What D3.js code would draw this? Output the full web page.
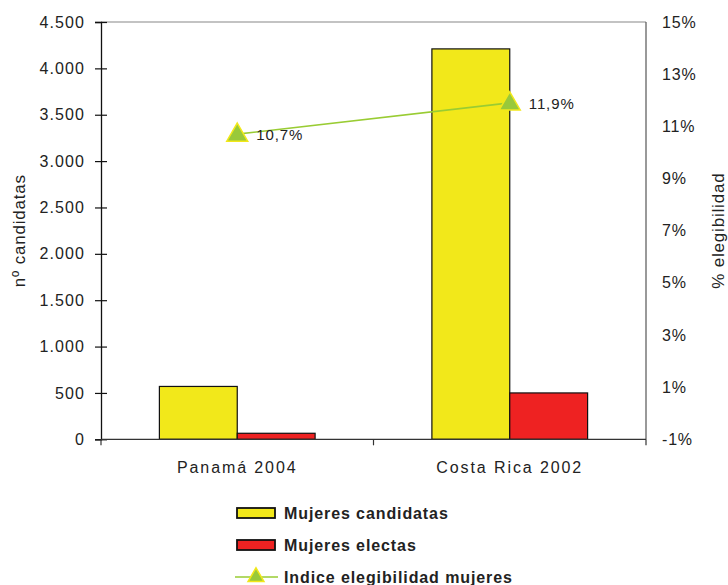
<!DOCTYPE html>
<html><head><meta charset="utf-8">
<script src="https://cdn.jsdelivr.net/npm/d3@7"></script>
<style>
html,body{margin:0;padding:0;background:#fff;}
text{font-family:"Liberation Sans",Arial,sans-serif;fill:#222;}
</style></head>
<body><svg id="c" width="728" height="585"></svg>
<script>
const categories = ["Panamá 2004", "Costa Rica 2002"];
const candidatas = [570, 4210];
const electas = [65, 500];
const indice = [10.7, 11.9];
const indiceLabels = ["10,7%", "11,9%"];
const leftTicks = [0,500,1000,1500,2000,2500,3000,3500,4000,4500];
const rightTicks = [-1,1,3,5,7,9,11,13,15];
const seriesNames = ["Mujeres candidatas", "Mujeres electas", "Indice elegibilidad mujeres"];

const svg = d3.select("#c");
const L = 101, R = 646, T = 22, B = 439.3;
const x = d3.scaleBand().domain(categories).range([L, R]).paddingInner(0).paddingOuter(0);
const inner = d3.scaleBand().domain(["c","e"]).range([0, x.bandwidth()]).paddingInner(0).paddingOuter(0.75);
const y = d3.scaleLinear().domain([0, 4500]).range([B, T]);
const y2 = d3.scaleLinear().domain([-1, 15]).range([B, T]);
const fmt = d3.formatLocale({decimal:",", thousands:".", grouping:[3], currency:["",""]}).format(",");

// plot frame
svg.append("line").attr("x1", L).attr("x2", R).attr("y1", T).attr("y2", T).attr("stroke", "#888").attr("stroke-width", 1.2);
svg.append("line").attr("x1", R).attr("x2", R).attr("y1", T).attr("y2", B).attr("stroke", "#555").attr("stroke-width", 1.2);

// bars
const colors = {c: "#f2e81a", e: "#ee2222"};
categories.forEach((cat, i) => {
  [["c", candidatas[i]], ["e", electas[i]]].forEach(([k, v]) => {
    svg.append("rect")
      .attr("x", x(cat) + inner(k))
      .attr("y", y(v))
      .attr("width", inner.bandwidth())
      .attr("height", B - y(v))
      .attr("fill", colors[k]).attr("stroke", "#111").attr("stroke-width", 1.2);
  });
});

// left axis
const la = svg.append("g").attr("transform", `translate(${L},0)`)
  .call(d3.axisLeft(y).tickValues(leftTicks).tickSize(6).tickPadding(10).tickFormat(d => fmt(d)));
la.select(".domain").attr("stroke", "#111").attr("stroke-width", 1.3);
la.selectAll(".tick line").attr("stroke", "#111").attr("x1", 6).attr("x2", -6).attr("stroke-width", 1.2);
la.selectAll(".tick text").attr("font-size", 16).attr("fill", "#222").attr("letter-spacing", 1.1)
  .attr("font-family", "Liberation Sans, Arial, sans-serif");

// right axis
const ra = svg.append("g").attr("transform", `translate(${R},0)`)
  .call(d3.axisRight(y2).tickValues(rightTicks).tickSize(0).tickPadding(16).tickFormat(d => d + "%"));
ra.select(".domain").remove();
ra.selectAll(".tick text").attr("font-size", 16).attr("fill", "#222").attr("letter-spacing", 0.8)
  .attr("font-family", "Liberation Sans, Arial, sans-serif");

// bottom axis
const ba = svg.append("g").attr("transform", `translate(0,${B})`)
  .call(d3.axisBottom(x).tickSize(0).tickPadding(22));
ba.select(".domain").attr("stroke", "#333").attr("stroke-width", 1.3).attr("d", `M${L},0H${R}`);
ba.selectAll(".tick text").attr("font-size", 16).attr("fill", "#222").attr("letter-spacing", 1.9)
  .attr("font-family", "Liberation Sans, Arial, sans-serif");
[L, x(categories[1]), R].forEach(px => {
  svg.append("line").attr("x1", px).attr("x2", px).attr("y1", B).attr("y2", B + 6).attr("stroke", "#333").attr("stroke-width", 1.2);
});

// line series
const pts = categories.map((c, i) => [x(c) + x.bandwidth()/2, y2(indice[i])]);
svg.append("path").attr("d", d3.line()(pts)).attr("fill", "none").attr("stroke", "#99cc33").attr("stroke-width", 1.6);
const tri = d3.symbol().type(d3.symbolTriangle).size(190);
pts.forEach((p, i) => {
  svg.append("path").attr("d", tri()).attr("transform", `translate(${p[0]},${p[1]+1})`)
    .attr("fill", "#99c93a").attr("stroke", "#f2e81a").attr("stroke-width", 1.5);
  svg.append("text").attr("x", p[0] + 19).attr("y", p[1] + 6).attr("font-size", 15).attr("letter-spacing", 0.9)
    .text(indiceLabels[i]);
});

// axis titles
svg.append("text").attr("transform", `translate(25,${(T+B)/2}) rotate(-90)`).attr("text-anchor", "middle")
  .attr("font-size", 17).attr("letter-spacing", 0.8).text("nº candidatas");
svg.append("text").attr("transform", `translate(724,${(T+B)/2}) rotate(-90)`).attr("text-anchor", "middle")
  .attr("font-size", 17).attr("letter-spacing", 0.8).text("% elegibilidad");

// legend
const lg = svg.append("g");
const rows = [513, 545, 577];
[["c"], ["e"]].forEach(([k], i) => {
  lg.append("rect").attr("x", 237).attr("y", rows[i] - 5).attr("width", 38).attr("height", 10)
    .attr("fill", colors[k]).attr("stroke", "#111").attr("stroke-width", 1.8);
});
lg.append("line").attr("x1", 235).attr("x2", 278).attr("y1", rows[2]).attr("y2", rows[2]).attr("stroke", "#99cc33").attr("stroke-width", 1.6);
lg.append("path").attr("d", d3.symbol().type(d3.symbolTriangle).size(110)()).attr("transform", `translate(256,${rows[2]})`)
  .attr("fill", "#99c93a").attr("stroke", "#f2e81a").attr("stroke-width", 1.5);
seriesNames.forEach((n, i) => {
  lg.append("text").attr("x", 284).attr("y", rows[i] + 6).attr("font-size", 16).attr("font-weight", "bold")
    .attr("letter-spacing", 0.9).attr("fill", "#111").text(n);
});
</script></body></html>
